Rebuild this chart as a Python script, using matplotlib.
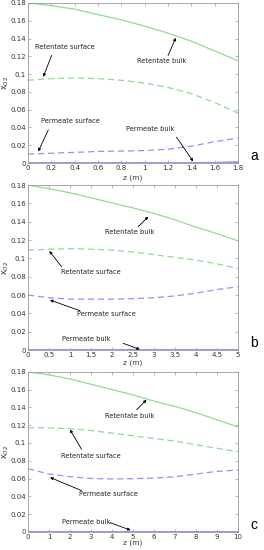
import matplotlib
matplotlib.use("Agg")
import matplotlib.pyplot as plt

GREEN = "#8fdc8f"
BLUE = "#9090ff"
FRAME = "#9a9a9a"
TICKTEXT = "#333333"

# panel a
za = [0, 0.2, 0.4, 0.6, 0.8, 1.0, 1.2, 1.4, 1.6, 1.8]
ret_bulk_a = [0.180, 0.177, 0.173, 0.167, 0.161, 0.154, 0.146, 0.137, 0.126, 0.115]
ret_surf_a = [0.093, 0.095, 0.0955, 0.095, 0.093, 0.090, 0.085, 0.078, 0.068, 0.056]
perm_surf_a = [0.010, 0.011, 0.012, 0.013, 0.0135, 0.014, 0.0155, 0.019, 0.024, 0.028]
perm_bulk_a = [0, 0, 0, 0, 0, 0, 0, 0, 0.0002, 0.001]

# panel b
zb = [0, 0.5, 1, 1.5, 2, 2.5, 3, 3.5, 4, 4.5, 5]
ret_bulk_b = [0.180, 0.176, 0.1715, 0.166, 0.1605, 0.155, 0.149, 0.142, 0.134, 0.127, 0.119]
ret_surf_b = [0.109, 0.110, 0.1105, 0.110, 0.109, 0.107, 0.104, 0.101, 0.098, 0.094, 0.089]
perm_surf_b = [0.060, 0.057, 0.0555, 0.0555, 0.0555, 0.056, 0.057, 0.059, 0.062, 0.066, 0.069]
perm_bulk_b = [0] * 11

# panel c
zc = [0, 1, 2, 3, 4, 5, 6, 7, 8, 9, 10]
ret_bulk_c = [0.180, 0.1765, 0.172, 0.166, 0.160, 0.154, 0.147, 0.141, 0.134, 0.126, 0.118]
ret_surf_c = [0.117, 0.117, 0.116, 0.114, 0.111, 0.108, 0.105, 0.102, 0.098, 0.094, 0.090]
perm_surf_c = [0.071, 0.065, 0.062, 0.060, 0.0595, 0.0598, 0.0605, 0.062, 0.065, 0.068, 0.0695]
perm_bulk_c = [0] * 11

xticks_a = [0, 0.2, 0.4, 0.6, 0.8, 1, 1.2, 1.4, 1.6, 1.8]
xticks_b = [0, 0.5, 1, 1.5, 2, 2.5, 3, 3.5, 4, 4.5, 5]
xticks_c = [0, 1, 2, 3, 4, 5, 6, 7, 8, 9, 10]
xlabels_a = ["0", "0.2", "0.4", "0.6", "0.8", "1", "1.2", "1.4", "1.6", "1.8"]
xlabels_b = ["0", "0.5", "1", "1.5", "2", "2.5", "3", "3.5", "4", "4.5", "5"]
xlabels_c = ["0", "1", "2", "3", "4", "5", "6", "7", "8", "9", "10"]
yticks = [0, 0.02, 0.04, 0.06, 0.08, 0.1, 0.12, 0.14, 0.16, 0.18]
ylabels = ["0", "0.02", "0.04", "0.06", "0.08", "0.1", "0.12", "0.14", "0.16", "0.18"]

# (label, text xy, arrow start, arrow end)
notes_a = [
    ("Retentate surface", (0.317, 0.1307), (0.2025, 0.121), (0.131, 0.097)),
    ("Retentate bulk", (1.141, 0.1146), (1.20, 0.121), (1.266, 0.1408)),
    ("Permeate surface", (0.365, 0.0474), (0.174, 0.0373), (0.088, 0.0131)),
    ("Permeate bulk", (1.047, 0.0381), (1.272, 0.0291), (1.415, 0.0019)),
]
notes_b = [
    ("Retentate bulk", (2.425, 0.1284), (2.623, 0.1345), (2.861, 0.1455)),
    ("Retentate surface", (1.49, 0.0847), (0.80, 0.0909), (0.507, 0.108)),
    ("Permeate surface", (1.87, 0.0393), (1.236, 0.0429), (0.523, 0.0545)),
    ("Permeate bulk", (1.395, 0.012), (2.266, 0.0073), (2.66, 0.0007)),
]
notes_c = [
    ("Retentate bulk", (4.85, 0.1299), (5.17, 0.1373), (5.64, 0.1485)),
    ("Retentate surface", (2.98, 0.0854), (2.55, 0.0928), (2.0, 0.115)),
    ("Permeate surface", (3.82, 0.0427), (2.55, 0.0464), (1.05, 0.0612)),
    ("Permeate bulk", (2.79, 0.0111), (3.9, 0.0104), (4.88, 0.0019)),
]

panels = [
    ("a", za, ret_bulk_a, ret_surf_a, perm_surf_a, perm_bulk_a, xticks_a, xlabels_a, notes_a,
     [0.106, 0.7036, 0.796, 0.291], -0.094),
    ("b", zb, ret_bulk_b, ret_surf_b, perm_surf_b, perm_bulk_b, xticks_b, xlabels_b, notes_b,
     [0.106, 0.3636, 0.796, 0.300], -0.079),
    ("c", zc, ret_bulk_c, ret_surf_c, perm_surf_c, perm_bulk_c, xticks_c, xlabels_c, notes_c,
     [0.106, 0.033, 0.796, 0.291], -0.068),
]

fig = plt.figure(figsize=(2.64, 5.5), dpi=100)

for letter, z, rb, rs, ps, pb, xt, xtl, notes, rect, xlab_y in panels:
    ax = fig.add_axes(rect)
    ax.plot(z, rb, color=GREEN, lw=0.9)
    ax.plot(z, rs, color=GREEN, lw=0.9, ls=(0, (5, 3)))
    ax.plot(z, ps, color=BLUE, lw=0.9, ls=(0, (5, 3)))
    ax.plot(z, pb, color=BLUE, lw=1.4)
    ax.set_xlim(z[0], z[-1])
    ax.set_ylim(0, 0.18)
    ax.set_xticks(xt)
    ax.set_xticklabels(xtl)
    ax.set_yticks(yticks)
    ax.set_yticklabels(ylabels)
    ax.tick_params(direction="in", top=True, right=True, length=2, width=0.5,
                   color=FRAME, labelcolor=TICKTEXT, labelsize=5.0, pad=1.5)
    for spine in ax.spines.values():
        spine.set_color(FRAME)
        spine.set_linewidth(0.6)
    ax.set_xlabel("z (m)", fontsize=5.3, color=TICKTEXT, va="center")
    ax.xaxis.set_label_coords(0.5, xlab_y)
    ax.set_ylabel("x$_{O2}$", fontsize=5.8, color=TICKTEXT, va="center")
    ax.yaxis.set_label_coords(-0.105, 0.5)
    for label, txy, start, end in notes:
        ax.text(txy[0], txy[1], label, fontsize=5.3, ha="center", va="center",
                family="DejaVu Sans", fontstretch="condensed", color="#222222")
        ax.annotate("", xy=end, xytext=start,
                    arrowprops=dict(arrowstyle="-|>", color="black", lw=0.6,
                                    mutation_scale=4, shrinkA=0, shrinkB=0))
    ax.text(1.075, 0.0, letter, transform=ax.transAxes, fontsize=10,
            ha="center", va="bottom", family="Liberation Sans")

fig.savefig("out.png", dpi=100)
